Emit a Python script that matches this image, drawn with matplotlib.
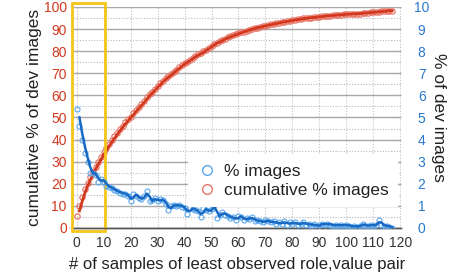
import matplotlib
matplotlib.use("Agg")
import matplotlib.pyplot as plt
from matplotlib.patches import Rectangle
from matplotlib.lines import Line2D
import numpy as np
import pandas as pd

plt.rcParams['font.family'] = ['Liberation Sans', 'DejaVu Sans']

# number of samples of least observed role,value pair
samples = list(range(0, 118))

# % of dev images (right axis)
pct_images = [
    5.4, 4.6, 4.0, 3.4, 3.0, 2.5, 2.5, 2.4, 2.1, 2.2,
    2.1, 1.9, 1.85, 1.8, 1.7, 1.65, 1.6, 1.55, 1.55, 1.45,
    1.2, 1.55, 1.45, 1.35, 1.3, 1.45, 1.65, 1.2, 1.25, 1.35,
    1.2, 1.3, 1.25, 1.1, 0.8, 1.0, 1.05, 1.0, 1.05, 0.95,
    0.9, 0.65, 0.9, 0.85, 0.8, 0.75, 0.5, 0.9, 0.8, 0.75,
    0.85, 1.05, 0.45, 0.6, 0.7, 0.6, 0.55, 0.45, 0.5, 0.35,
    0.55, 0.5, 0.35, 0.45, 0.4, 0.5, 0.3, 0.35, 0.3, 0.25,
    0.35, 0.3, 0.25, 0.3, 0.2, 0.25, 0.2, 0.3, 0.15, 0.25,
    0.2, 0.25, 0.15, 0.2, 0.25, 0.15, 0.2, 0.1, 0.2, 0.05,
    0.15, 0.2, 0.15, 0.2, 0.15, 0.1, 0.15, 0.1, 0.15, 0.1,
    0.15, 0.1, 0.05, 0.1, 0.05, 0.1, 0.2, 0.1, 0.1, 0.15,
    0.1, 0.15, 0.35, 0.15, 0.1, 0.1, 0.05, 0.0,
]

# cumulative % of dev images (left axis)
cum_pct_images = [
    5.4, 10.0, 14.0, 17.4, 20.4, 22.9, 25.4, 27.8, 29.9, 32.1,
    34.2, 36.1, 37.9, 39.7, 41.4, 43.1, 44.7, 46.2, 47.8, 49.2,
    50.4, 52.0, 53.4, 54.8, 56.1, 57.5, 59.2, 60.4, 61.6, 63.0,
    64.2, 65.5, 66.7, 67.8, 68.6, 69.6, 70.7, 71.7, 72.7, 73.7,
    74.6, 75.2, 76.1, 77.0, 77.8, 78.5, 79.0, 79.9, 80.7, 81.5,
    82.3, 83.4, 83.8, 84.4, 85.1, 85.7, 86.3, 86.7, 87.2, 87.6,
    88.1, 88.6, 88.9, 89.3, 89.7, 90.1, 90.4, 90.7, 91.0, 91.2,
    91.6, 91.9, 92.1, 92.4, 92.6, 92.9, 93.1, 93.4, 93.5, 93.8,
    94.0, 94.2, 94.4, 94.6, 94.8, 94.9, 95.1, 95.2, 95.4, 95.4,
    95.6, 95.7, 95.9, 96.0, 96.1, 96.2, 96.3, 96.4, 96.5, 96.6,
    96.7, 96.8, 96.8, 96.9, 97.0, 97.0, 97.2, 97.3, 97.4, 97.5,
    97.6, 97.7, 97.9, 98.0, 98.1, 98.2, 98.3, 98.4,
]

RED_LINE = '#d2381e'
RED_MARK = '#e8776a'
BLUE_LINE = '#1769c4'
BLUE_MARK = '#5aa7ee'
YELLOW = '#f5c518'

fig = plt.figure(figsize=(4.76, 2.79), dpi=100)
ax = fig.add_axes([0.155, 0.183, 0.687, 0.792])
ax2 = ax.twinx()

x = np.array(samples)
cum = pd.Series(cum_pct_images)
pct = pd.Series(pct_images)

# left: cumulative
ax.plot(x, cum, linestyle='none', marker='o', markersize=3.8, markerfacecolor='none',
        markeredgecolor=RED_MARK, markeredgewidth=0.9, zorder=3)
ax.plot(x, cum.rolling(2).mean(), color=RED_LINE, lw=2.0, zorder=4)

# right: % images
ax2.plot(x, pct, linestyle='none', marker='o', markersize=3.6, markerfacecolor='none',
         markeredgecolor=BLUE_MARK, markeredgewidth=0.8, zorder=3)
ax2.plot(x, pct.rolling(2).mean(), color=BLUE_LINE, lw=1.8, zorder=4)

ax.set_xlim(-1.1, 120.2)
ax.set_ylim(0, 100)
ax2.set_ylim(0, 10)

ax.set_xticks(range(0, 121, 10))
ax.set_yticks(range(0, 101, 10))
ax.set_yticks(range(5, 100, 10), minor=True)
ax2.set_yticks(range(0, 11, 1))

ax.grid(axis='y', which='major', color='#a8a8a8', lw=1.0, linestyle='-')
ax.grid(axis='y', which='minor', color='#b8b8b8', lw=0.8, linestyle=(0, (1, 1.5)))
ax.grid(axis='x', which='major', color='#c4c4c4', lw=0.8, linestyle=(0, (1, 1.5)))
ax.set_axisbelow(True)

for a in (ax, ax2):
    for s in ('top', 'left', 'right'):
        a.spines[s].set_visible(False)
    a.spines['bottom'].set_color('#555555')
    a.spines['bottom'].set_linewidth(1.0)

ax.tick_params(axis='x', length=0, pad=6, labelsize=10, labelcolor='#333333')
ax.tick_params(axis='y', which='both', length=0, pad=5, labelsize=10, labelcolor=RED_LINE)
ax2.tick_params(axis='y', direction='in', length=3, color='#aaaaaa', pad=15,
                labelsize=10, labelcolor='#2a78cf')
for lab in ax2.get_yticklabels():
    lab.set_horizontalalignment('center')

ax.set_xlabel('# of samples of least observed role,value pair', fontsize=12,
              color='#222222', labelpad=5)
ax.set_ylabel('cumulative % of dev images', fontsize=12.5, color='#222222', labelpad=1)
ax2.set_ylabel('% of dev images', fontsize=12.5, color='#222222', rotation=270,
               labelpad=12)

# highlight box
rect = Rectangle((-1.85, -1.4), 12.2, 103.2, fill=False, edgecolor=YELLOW, lw=2.0,
                 clip_on=False, zorder=6)
ax.add_patch(rect)

handles = [
    Line2D([], [], linestyle='none', marker='o', markersize=7, markerfacecolor='none',
           markeredgecolor=BLUE_MARK, markeredgewidth=1.0),
    Line2D([], [], linestyle='none', marker='o', markersize=7, markerfacecolor='none',
           markeredgecolor=RED_MARK, markeredgewidth=1.0),
]
leg = ax2.legend(handles, ['% images', 'cumulative % images'], loc='center left',
                 bbox_to_anchor=(0.395, 1 - 181 / 279), bbox_transform=fig.transFigure,
                 borderaxespad=0, frameon=True, fontsize=12.5,
                 handletextpad=0.4, borderpad=0.5, labelspacing=0.25, handlelength=1.2)
leg.get_frame().set_facecolor('white')
leg.get_frame().set_edgecolor('none')
leg.get_frame().set_alpha(1.0)
leg.get_frame().set_boxstyle('square', pad=0.0)
for t in leg.get_texts():
    t.set_color('#222222')
leg.set_zorder(10)

fig.savefig('out.png', dpi=100)
